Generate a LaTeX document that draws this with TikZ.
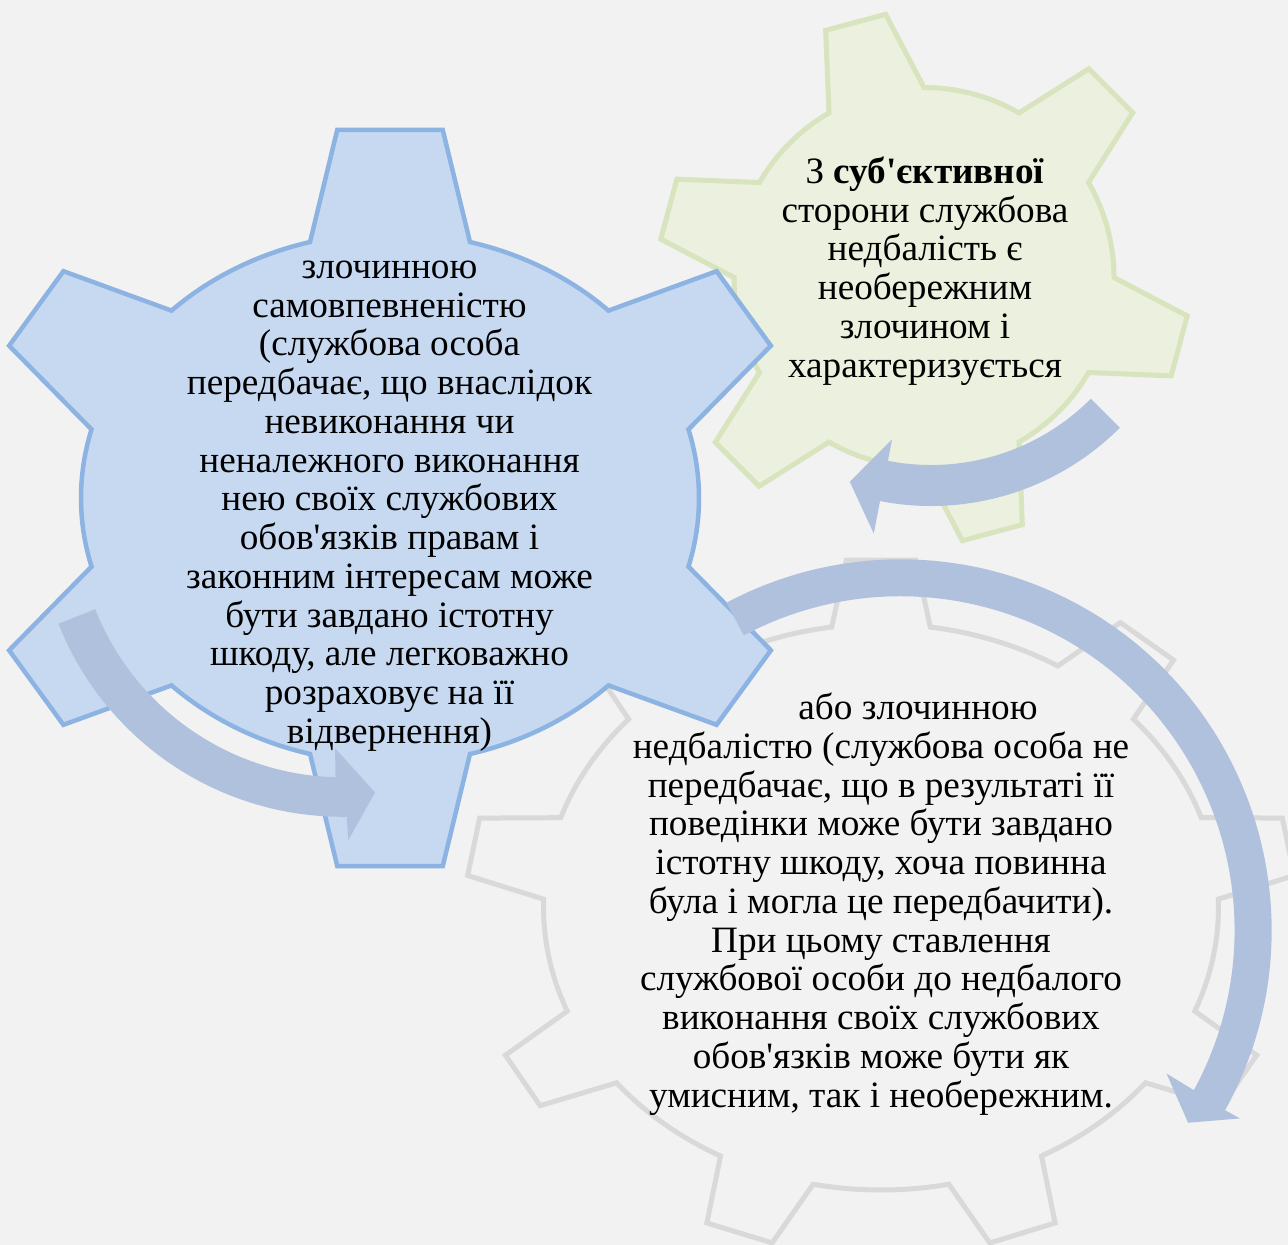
\documentclass[tikz,border=0pt]{standalone}
\usepackage{fontspec}
\setmainfont{Liberation Serif}[Ligatures=TeXOff]
\definecolor{bgc}{HTML}{F2F2F2}
\definecolor{bluefill}{HTML}{C6D9F1}
\definecolor{bluedraw}{HTML}{8DB3E2}
\definecolor{greenfill}{HTML}{EBF1DE}
\definecolor{greendraw}{HTML}{D7E4BD}
\definecolor{graydraw}{HTML}{D9D9D9}
\definecolor{arrowfill}{HTML}{B0C1DD}
% #1 style, #2 teeth, #3 first tooth angle, #4 base half angle, #5 tip half angle, #6 tip radius
\newcommand\gearshape[6]{%
  \draw[#1] ({#3-#4}:1)
  \foreach \k in {1,...,#2}{
    -- ({#3+(\k-1)*360/#2-#5}:#6) -- ({#3+(\k-1)*360/#2+#5}:#6)
    -- ({#3+(\k-1)*360/#2+#4}:1)
    arc[start angle={#3+(\k-1)*360/#2+#4}, end angle={#3+\k*360/#2-#4}, radius=1]
  } -- cycle;}
\tikzset{
  bluegear/.style={fill=bluefill, draw=bluedraw, line width=4.5pt},
  greengear/.style={fill=greenfill, draw=greendraw, line width=5pt},
  graygear/.style={draw=graydraw, line width=5pt},
  arrowshape/.style={fill=arrowfill},
  geartext/.style={align=center, font=\fontsize{37.2}{38.75}\selectfont, inner sep=0pt, text=black},
}
\begin{document}
\begin{tikzpicture}[x=1pt,y=-1pt]
\useasboundingbox (0,0) rectangle (1288,1245);
\fill[bgc] (0,0) rectangle (1288,1245);
% gray gear (back)
\begin{scope}[shift={(881,907)}, xscale=337.5, yscale=-283]
  \gearshape{graygear}{9}{90}{8.4}{4.8}{1.23}
\end{scope}
% green gear
\begin{scope}[shift={(924,277.5)}, xscale=190, yscale=-190]
  \gearshape{greengear}{6}{105}{15}{6.7}{1.4}
\end{scope}
% blue gear
\begin{scope}[shift={(390,498)}, xscale=309, yscale=-265]
  \draw[bluegear] (75:1) -- (83:1.40) -- (97:1.40) -- (105:1)
    arc[start angle=105, end angle=135, radius=1] -- (141:1.36) -- (155:1.36) -- (165:1)
    arc[start angle=165, end angle=195, radius=1] -- (205:1.36) -- (219:1.36) -- (225:1)
    arc[start angle=225, end angle=255, radius=1] -- (263:1.40) -- (277:1.40) -- (285:1)
    arc[start angle=285, end angle=315, radius=1] -- (321:1.36) -- (335:1.36) -- (345:1)
    arc[start angle=345, end angle=375, radius=1] -- (25:1.36) -- (39:1.36) -- (45:1)
    arc[start angle=45, end angle=75, radius=1] -- cycle;
\end{scope}
% arrow on blue gear
\begin{scope}[shift={(342.5,511.3)}, yscale=-1]
  \fill[arrowshape] (201.6:266) arc[start angle=201.6, end angle=268.5, radius=266]
    -- (268.2:237) -- (276.6:283) -- (271:329) -- (270.8:305.5)
    arc[start angle=270.8, end angle=201.6, radius=305.5] -- cycle;
\end{scope}
% arrow on green gear
\begin{scope}[shift={(931,239)}, yscale=-1]
  \fill[arrowshape] (-45:226) arc[start angle=-45, end angle=-101, radius=226]
    -- (-101:204) -- (-108.5:256) -- (-101:300) -- (-101:267)
    arc[start angle=-101, end angle=-45, radius=267] -- cycle;
\end{scope}
% arrow on gray gear
\begin{scope}[shift={(900.6,930.3)}, yscale=-1]
  \fill[arrowshape] (118:334) arc[start angle=118, end angle=-28.6, radius=334]
    -- (-28.3:302) -- (-33.8:346) -- (-29:388) -- (-29:371)
    arc[start angle=-29, end angle=118, radius=371] -- cycle;
\end{scope}
% texts
\node[geartext] (bluetext) at (389.5,506) {злочинною\\самовпевненістю\\(службова особа\\передбачає, що внаслідок\\невиконання чи\\неналежного виконання\\нею своїх службових\\обов'язків правам і\\законним інтересам може\\бути завдано істотну\\шкоду, але легковажно\\розраховує на її\\відвернення)};
\node[geartext] (greentext) at (925,271) {З \textbf{суб'єктивної}\\сторони службова\\недбалість є\\необережним\\злочином і\\характеризується};
\node[geartext] (graytext) at (881,904) {\hspace*{74pt}або злочинною\\недбалістю (службова особа не\\передбачає, що в результаті її\\поведінки може бути завдано\\істотну шкоду, хоча повинна\\була і могла це передбачити).\\При цьому ставлення\\службової особи до недбалого\\виконання своїх службових\\обов'язків може бути як\\умисним, так і необережним.};
\end{tikzpicture}
\end{document}
